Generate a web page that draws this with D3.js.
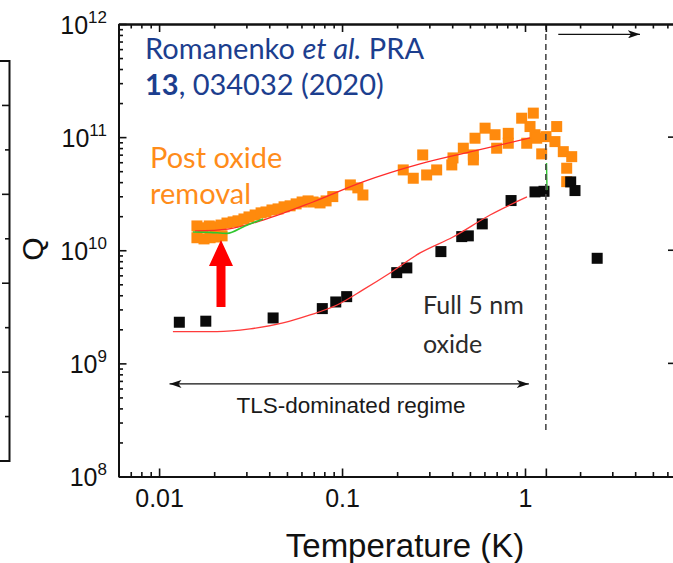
<!DOCTYPE html>
<html><head><meta charset="utf-8">
<script src="https://cdn.jsdelivr.net/npm/d3@7"></script>
<style>body{margin:0;background:#fff}svg{display:block}</style>
</head><body>
<svg id="c" width="673" height="563"></svg>
<script>
// ---------- data ----------
const xMajor = [0.01, 0.1, 1];
const xMajorLabels = ["0.01", "0.1", "1"];
const yMajor = [1e8, 1e9, 1e10, 1e11, 1e12];
const yMajorExp = ["8", "9", "10", "11", "12"];

// Full 5 nm oxide (black squares)
const blackT = [0.0129, 0.0180, 0.0420, 0.078, 0.0924, 0.106, 0.199, 0.226, 0.347, 0.451, 0.490, 0.584, 0.839, 1.134, 1.27, 1.777, 1.876, 2.48];
const blackQ = [2.31e9, 2.36e9, 2.52e9, 3.05e9, 3.49e9, 3.89e9, 6.34e9, 6.98e9, 9.73e9, 1.32e10, 1.34e10, 1.71e10, 2.75e10, 3.28e10, 3.32e10, 4.02e10, 3.37e10, 8.49e9];

// Post oxide removal (orange squares)
const orangeT = [0.0161, 0.0161, 0.0174, 0.0176, 0.0188, 0.0190, 0.0202, 0.0205, 0.0218, 0.0221,
  0.0235, 0.0254, 0.0270, 0.0291, 0.0310, 0.0335, 0.0361, 0.0384, 0.0414, 0.0447,
  0.0482, 0.0520, 0.0561, 0.0605, 0.0652, 0.0694, 0.0758, 0.0818, 0.0890, 0.111,
  0.122, 0.130, 0.216, 0.245, 0.276, 0.290, 0.329, 0.398, 0.404, 0.460,
  0.533, 0.522, 0.522, 0.605, 0.686, 0.700, 0.810, 0.810, 0.959, 1.11,
  1.065, 1.134, 1.022, 1.159, 1.234, 1.302, 1.49, 1.458, 1.619, 1.80, 1.69, 1.69];
const orangeQ = [1.64e10, 1.29e10, 1.58e10, 1.26e10, 1.64e10, 1.29e10, 1.61e10, 1.31e10, 1.67e10, 1.34e10,
  1.74e10, 1.78e10, 1.82e10, 1.89e10, 1.97e10, 2.05e10, 2.14e10, 2.18e10, 2.27e10, 2.32e10,
  2.42e10, 2.47e10, 2.57e10, 2.67e10, 2.73e10, 2.67e10, 2.62e10, 2.73e10, 2.98e10, 3.78e10,
  3.56e10, 3.08e10, 5.13e10, 4.33e10, 6.96e10, 4.63e10, 5.13e10, 5.68e10, 6.55e10, 7.98e10,
  9.78e10, 6.96e10, 6.29e10, 1.20e11, 1.05e11, 7.98e10, 1.08e11, 8.83e10, 1.47e11, 1.63e11,
  1.24e11, 1.05e11, 8.83e10, 9.78e10, 7.11e10, 1.01e11, 1.24e11, 9.13e10, 7.44e10, 6.72e10, 5.31e10, 4.04e10];

// TLS model fits (red curves)
const fitOrangeT = [0.0157, 0.0238, 0.0370, 0.0694, 0.130, 0.267, 0.501, 1.065];
const fitOrangeQ = [1.48e10, 1.54e10, 1.85e10, 2.67e10, 4.02e10, 5.80e10, 7.40e10, 9.84e10];
const fitBlackT = [0.0119, 0.0207, 0.0314, 0.0476, 0.0669, 0.0939, 0.130, 0.183, 0.267, 0.404, 0.644, 1.025];
const fitBlackQ = [1.91e9, 1.91e9, 2.02e9, 2.28e9, 2.68e9, 3.28e9, 4.46e9, 6.30e9, 9.47e9, 1.31e10, 2.05e10, 2.96e10];

// green traces
const greenT = [0.0153, 0.0190, 0.0235, 0.0295, 0.0370];
const greenQ = [1.45e10, 1.44e10, 1.41e10, 1.64e10, 1.89e10];
const green2T = [1.311, 1.319];
const green2Q = [5.9e10, 3.4e10];

// annotation anchors (data units)
const tlsArrowT = [0.0114, 1.05];
const tlsArrowQ = 6.58e8;
const rightArrowT = [1.52, 4.25];
const rightArrowQ = 8.1e11;
const transitionT = 1.3;
const transitionQ = [1e12, 2.55e8];

// ---------- drawing ----------
const svg = d3.select("#c");
const x = d3.scaleLog().domain([0.006, 6.44]).range([118.5, 673]);
const y = d3.scaleLog().domain([1e8, 1e12]).range([476.5, 24]);
const AX = "Liberation Sans, Arial, sans-serif";
const CAL = "Lato, 'Open Sans', sans-serif";

const xMinor = [], yMinor = [];
[0.001, 0.01, 0.1, 1].forEach(d => { for (let m = 2; m <= 9; m++) { const v = m * d; if (v >= 0.006 && v <= 6.44) xMinor.push(v); } });
[1e8, 1e9, 1e10, 1e11].forEach(d => { for (let m = 2; m <= 9; m++) yMinor.push(m * d); });

// left fragment of neighbouring panel
const frag = svg.append("g").attr("stroke", "#111").attr("fill", "none");
frag.append("path").attr("d", "M0,61 H9.5 V461 H0").attr("stroke-width", 2);
d3.range(1, 9).forEach(i => {
  const yy = 61 + i * 400 / 9;
  frag.append("line").attr("x1", 9.5).attr("x2", i % 2 ? 2 : 5).attr("y1", yy).attr("y2", yy).attr("stroke-width", 1.6);
});

// data marks
const S = 11;
svg.append("g").selectAll("rect").data(orangeT).join("rect")
  .attr("x", (d, i) => x(d) - S / 2).attr("y", (d, i) => y(orangeQ[i]) - S / 2)
  .attr("width", S).attr("height", S).attr("fill", "#ff8a0d");
svg.append("g").selectAll("rect").data(blackT).join("rect")
  .attr("x", (d, i) => x(d) - S / 2).attr("y", (d, i) => y(blackQ[i]) - S / 2)
  .attr("width", S).attr("height", S).attr("fill", "#0a0a0a");

const line = d3.line().curve(d3.curveMonotoneX);
const mk = (T, Q) => line(T.map((t, i) => [x(t), y(Q[i])]));
svg.append("path").attr("d", mk(fitOrangeT, fitOrangeQ)).attr("fill", "none").attr("stroke", "#ff2a2a").attr("stroke-width", 1.3);
svg.append("path").attr("d", mk(fitBlackT, fitBlackQ)).attr("fill", "none").attr("stroke", "#ff3b3b").attr("stroke-width", 1.3);
svg.append("path").attr("d", mk(greenT, greenQ)).attr("fill", "none").attr("stroke", "#2fc62f").attr("stroke-width", 1.6);
svg.append("path").attr("d", d3.line()(green2T.map((t, i) => [x(t), y(green2Q[i])]))).attr("fill", "none").attr("stroke", "#2fc62f").attr("stroke-width", 1.4);

// dashed transition line
svg.append("line").attr("x1", x(transitionT)).attr("x2", x(transitionT))
  .attr("y1", y(transitionQ[0])).attr("y2", y(transitionQ[1]))
  .attr("stroke", "#4a4a4a").attr("stroke-width", 1.6).attr("stroke-dasharray", "6,4");

// axes
function styleAxis(g) {
  g.select(".domain").attr("stroke", "#111").attr("stroke-width", 2);
  g.selectAll(".tick line").attr("stroke", "#111").attr("stroke-width", 1.6);
}
const gb = svg.append("g").attr("transform", `translate(0,${y(1e8)})`);
gb.append("g").call(d3.axisBottom(x).tickValues(xMinor).tickSize(-4.5).tickSizeOuter(0).tickFormat("")).call(styleAxis);
gb.append("g").call(d3.axisBottom(x).tickValues(xMajor.concat([transitionT])).tickSize(-8).tickSizeOuter(0).tickPadding(13)
  .tickFormat(d => { const i = xMajor.indexOf(d); return i < 0 ? "" : xMajorLabels[i]; })).call(styleAxis)
  .selectAll("text").attr("font-family", AX).attr("font-size", 25).attr("fill", "#111");
const gt = svg.append("g").attr("transform", `translate(0,${y(1e12)})`);
gt.append("g").call(d3.axisTop(x).tickValues(xMinor).tickSize(-4.5).tickSizeOuter(0).tickFormat("")).call(styleAxis);
gt.append("g").call(d3.axisTop(x).tickValues(xMajor.concat([transitionT])).tickSize(-8).tickSizeOuter(0).tickFormat("")).call(styleAxis);
const gl = svg.append("g").attr("transform", `translate(${x.range()[0]},0)`);
gl.append("g").call(d3.axisLeft(y).tickValues(yMinor).tickSize(-4.5).tickSizeOuter(0).tickFormat("")).call(styleAxis);
gl.append("g").call(d3.axisLeft(y).tickValues(yMajor).tickSize(-8).tickSizeOuter(0).tickFormat("")).call(styleAxis);
yMajor.forEach((v, i) => {
  const t = svg.append("text").attr("x", 107).attr("y", y(v) + 9.5).attr("text-anchor", "end")
    .attr("font-family", AX).attr("font-size", 25).attr("fill", "#111");
  t.append("tspan").text("10");
  t.append("tspan").attr("dy", -11).attr("font-size", 17).text(yMajorExp[i]);
});
// ticks of the neighbouring panel on the right
[1e9, 1e10, 1e11].forEach(v => svg.append("line").attr("x1", 668).attr("x2", 673).attr("y1", y(v)).attr("y2", y(v)).attr("stroke", "#111").attr("stroke-width", 1.6));

// axis titles
svg.append("text").attr("transform", "translate(43,249) rotate(-90)").attr("text-anchor", "middle")
  .attr("font-family", AX).attr("font-size", 30).attr("fill", "#111").text("Q");
svg.append("text").attr("x", 405).attr("y", 557).attr("text-anchor", "middle")
  .attr("font-family", AX).attr("font-size", 33).attr("fill", "#111").text("Temperature (K)");

// arrows
const defs = svg.append("defs");
defs.append("marker").attr("id", "ah").attr("viewBox", "0 0 12 8").attr("refX", 12).attr("refY", 4)
  .attr("markerWidth", 12).attr("markerHeight", 8).attr("markerUnits", "userSpaceOnUse").attr("orient", "auto-start-reverse")
  .append("path").attr("d", "M0,0 L12,4 L0,8 L3,4 Z").attr("fill", "#111");
svg.append("line").attr("x1", x(tlsArrowT[0])).attr("x2", x(tlsArrowT[1])).attr("y1", y(tlsArrowQ)).attr("y2", y(tlsArrowQ))
  .attr("stroke", "#111").attr("stroke-width", 1.2).attr("marker-start", "url(#ah)").attr("marker-end", "url(#ah)");
svg.append("line").attr("x1", x(rightArrowT[0])).attr("x2", x(rightArrowT[1])).attr("y1", y(rightArrowQ)).attr("y2", y(rightArrowQ))
  .attr("stroke", "#111").attr("stroke-width", 1.2).attr("marker-end", "url(#ah)");
svg.append("text").attr("x", 351).attr("y", 413).attr("text-anchor", "middle")
  .attr("font-family", AX).attr("font-size", 22.5).attr("fill", "#1a1a1a").text("TLS-dominated regime");

// red arrow
svg.append("path").attr("d", "M221,240 L233,266 L225.5,266 L225.5,307 L216.5,307 L216.5,266 L209,266 Z").attr("fill", "#ff0000");

// text annotations
const ref = svg.append("text").attr("font-family", CAL).attr("font-size", 29).attr("fill", "#1c3e8e");
ref.append("tspan").attr("x", 145).attr("y", 59).text("Romanenko ");
ref.append("tspan").attr("font-style", "italic").text("et al.");
ref.append("tspan").text(" PRA");
const ref2 = svg.append("text").attr("font-family", CAL).attr("font-size", 29).attr("fill", "#1c3e8e").attr("x", 145).attr("y", 95);
ref2.append("tspan").attr("font-weight", "bold").text("13");
ref2.append("tspan").text(", 034032 (2020)");
svg.append("text").attr("font-family", CAL).attr("font-size", 29).attr("fill", "#ff8c1a").attr("x", 150).attr("y", 168).text("Post oxide");
svg.append("text").attr("font-family", CAL).attr("font-size", 29).attr("fill", "#ff8c1a").attr("x", 150).attr("y", 204).text("removal");
svg.append("text").attr("font-family", CAL).attr("font-size", 25).attr("fill", "#2b2b2b").attr("x", 423).attr("y", 314).text("Full 5 nm");
svg.append("text").attr("font-family", CAL).attr("font-size", 25).attr("fill", "#2b2b2b").attr("x", 423).attr("y", 353).text("oxide");
</script>
</body></html>
